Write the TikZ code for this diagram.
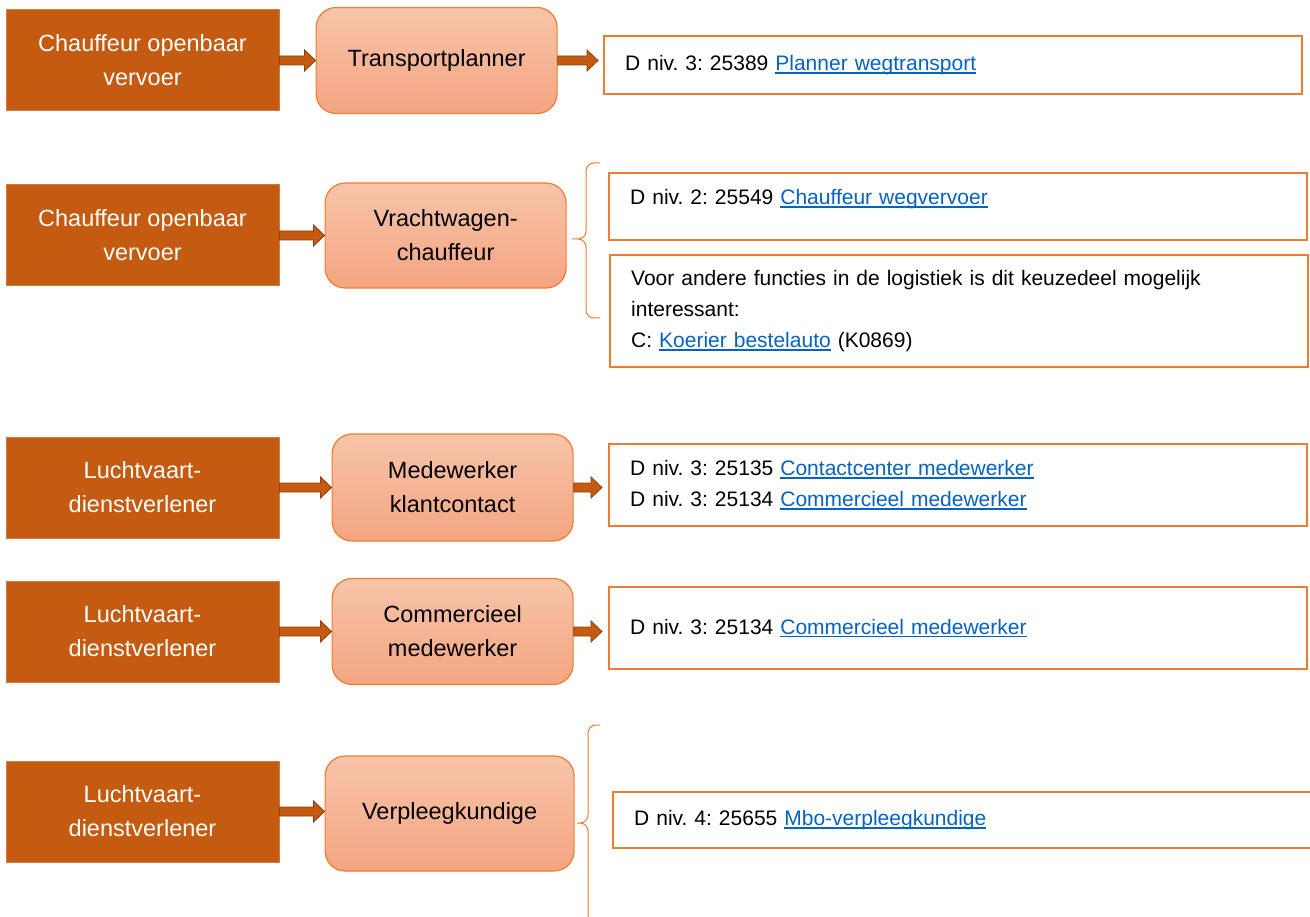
\documentclass[tikz,border=0pt]{standalone}
\usepackage{fontspec}
\setmainfont{Liberation Sans}
\usetikzlibrary{positioning,calc}
\definecolor{rust}{HTML}{C55A11}
\definecolor{rustedge}{HTML}{8E3F0D}
\definecolor{peachtop}{HTML}{F7C4A9}
\definecolor{peachbottom}{HTML}{F4A582}
\definecolor{accent}{HTML}{ED7D31}
\definecolor{linkblue}{HTML}{0563C1}
\frenchspacing
\newsavebox\linkbox
\newcommand\weblink[1]{\sbox\linkbox{\color{linkblue}#1}\textcolor{linkblue}{\rlap{\rule[-3pt]{\wd\linkbox}{1.4pt}}}\usebox\linkbox}
\tikzset{
    role/.style={rectangle,fill=rust,draw=rust!80!white,line width=1pt,text=white,
        minimum width=273pt,minimum height=101pt,align=center,
        font=\fontsize{23.5}{34}\selectfont},
    job/.style={rectangle,rounded corners=20pt,top color=peachtop,bottom color=peachbottom,
        draw=accent,line width=1.2pt,minimum width=241pt,minimum height=106pt,
        align=center,font=\fontsize{23.5}{34}\selectfont},
    info/.style={rectangle,draw=accent,line width=2.4pt,fill=white,anchor=north west,
        inner xsep=21pt,inner ysep=0pt,text width=656pt,align=left,
        font=\fontsize{21}{31}\selectfont},
    pipe/.style={fill=rust,draw=rustedge,line width=0.8pt,
        to path={let \p1=(\tikztostart.east), \p2=(\tikztotarget.west) in
            (\x1,\y1+4.5pt) -- (\x2-#1-11pt,\y1+4.5pt) -- (\x2-#1-11pt,\y1+10.5pt)
            -- (\x2-#1,\y1) -- (\x2-#1-11pt,\y1-10.5pt) -- (\x2-#1-11pt,\y1-4.5pt)
            -- (\x1,\y1-4.5pt) -- cycle}},
    pipe/.default=0pt,
    bracket/.style={draw=accent,line width=1pt,rounded corners=8pt}
}

\begin{document}
\begin{tikzpicture}[x=1pt,y=-1pt]

    \useasboundingbox[fill=white] (0,0) rectangle (1310,917);

    \node[role] (role 1) at (142.5,60.5) {Chauffeur openbaar\\vervoer};
    \node[job]  (job 1)  [right=36pt of role 1] {Transportplanner};
    \node[info,minimum height=58pt] (info 1) at (603,35)
        {D niv. 3: 25389 \weblink{Planner wegtransport}};
    \path (role 1) edge[pipe] (job 1)
          (job 1)  edge[pipe=5pt] (info 1);

    \node[role] (role 2) at (142.5,235.5) {Chauffeur openbaar\\vervoer};
    \node[job]  (job 2)  [right=45pt of role 2, minimum height=105pt] {Vrachtwagen-\\chauffeur};
    \node[info,minimum height=67pt,text depth=19pt] (info 2a) at (608,172)
        {D niv. 2: 25549 \weblink{Chauffeur wegvervoer}};
    \node[info,minimum height=112pt] (info 2b) at (609,254)
        {Voor andere functies in de logistiek is dit keuzedeel mogelijk\\
         interessant:\\
         C: \weblink{Koerier bestelauto} (K0869)};
    \path (role 2) edge[pipe] (job 2);
    \draw[bracket] (600,163) -- (586,163) -- (586,239) -- (572,239)
                   (600,318) -- (586,318) -- (586,239) -- (572,239);

    \node[role] (role 3) at (142.5,487.5) {Luchtvaart-\\dienstverlener};
    \node[job]  (job 3)  [right=52pt of role 3, minimum height=107pt] {Medewerker\\klantcontact};
    \node[info,minimum height=82pt] (info 3) at (608,443)
        {D niv. 3: 25135 \weblink{Contactcenter medewerker}\\
         D niv. 3: 25134 \weblink{Commercieel medewerker}};
    \path (role 3) edge[pipe] (job 3)
          (job 3)  edge[pipe=6pt] (info 3);

    \node[role] (role 4) at (142.5,631.5) {Luchtvaart-\\dienstverlener};
    \node[job]  (job 4)  [right=52pt of role 4] {Commercieel\\medewerker};
    \node[info,minimum height=82pt] (info 4) at (608,586)
        {D niv. 3: 25134 \weblink{Commercieel medewerker}};
    \path (role 4) edge[pipe] (job 4)
          (job 4)  edge[pipe=6pt] (info 4);

    \node[role] (role 5) at (142.5,811.5) {Luchtvaart-\\dienstverlener};
    \node[job]  (job 5)  [right=45pt of role 5, yshift=-2pt, minimum width=249pt,
        minimum height=115pt] {Verpleegkundige};
    \node[info,minimum height=56pt] (info 5) at (612,791)
        {D niv. 4: 25655 \weblink{Mbo-verpleegkundige}};
    \path (role 5) edge[pipe] (job 5);
    \draw[bracket] (600,725) -- (588,725) -- (588,823) -- (577,823)
                   (588,917) -- (588,823) -- (577,823);

\end{tikzpicture}
\end{document}
